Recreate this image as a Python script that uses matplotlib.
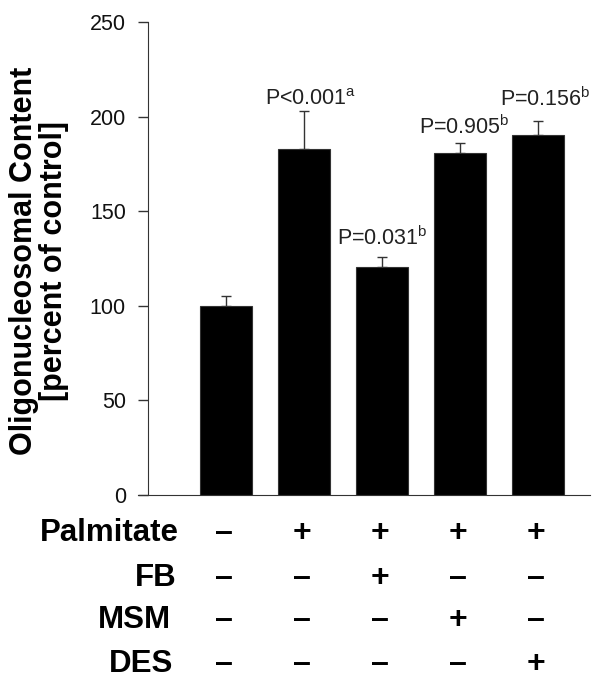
import numpy as np
import matplotlib
matplotlib.use('Agg')
import matplotlib.pyplot as plt
import matplotlib.transforms as mtransforms

plt.rcParams['font.family'] = ['Liberation Sans', 'DejaVu Sans']
plt.rcParams['mathtext.fontset'] = 'custom'
plt.rcParams['mathtext.rm'] = 'Liberation Sans'

# bar heights and upper error (percent of control)
values = [100, 183, 120.5, 180.8, 190.3]
errors = [5.3, 20, 5.3, 5.2, 7.4]
p_labels = ['', r'P<0.001$^{\rm a}$', r'P=0.031$^{\rm b}$', r'P=0.905$^{\rm b}$', r'P=0.156$^{\rm b}$']

treatments = ['Palmitate', 'FB', 'MSM', 'DES']
signs = [
    ['-', '+', '+', '+', '+'],
    ['-', '-', '+', '-', '-'],
    ['-', '-', '-', '+', '-'],
    ['-', '-', '-', '-', '+'],
]

fig = plt.figure(figsize=(5.92, 6.8), dpi=100)
ax = fig.add_axes([0.25, 0.272, 0.747, 0.6956])

x = np.arange(len(values))
ax.bar(x, values, width=0.67, color='black', edgecolor='#333333', linewidth=0.8, zorder=2)
ax.errorbar(x, values, yerr=[np.zeros(len(errors)), errors], fmt='none',
            ecolor='#333333', elinewidth=1, capsize=3.3, capthick=1, zorder=1)

# p-value labels (gap above error bar and small sideways shift)
lab_pad = [0, 6, 10, 8.5, 11.5]
lab_dx = [0, 0.08, 0.0, 0.06, 0.09]
for i in range(len(values)):
    if p_labels[i]:
        ax.text(x[i] + lab_dx[i], values[i] + errors[i] + lab_pad[i], p_labels[i],
                ha='center', va='center', fontsize=15.5, color='#222222')

ax.set_xlim(-1.0, 4.67)
ax.set_ylim(0, 250)
ax.set_yticks([0, 50, 100, 150, 200, 250])
ax.set_xticks([])
ax.tick_params(axis='y', labelsize=15.5, length=7, width=1, color='#333333', pad=9,
               labelcolor='#111111')
ax.spines['top'].set_visible(False)
ax.spines['right'].set_visible(False)
ax.spines['left'].set_color('#333333')
ax.spines['bottom'].set_color('#333333')
ax.spines['bottom'].set_bounds(-1.13, 4.67)

fig.text(39.5 / 592, 1 - 261 / 680, 'Oligonucleosomal Content\n[percent of control]',
         rotation=90, ha='center', va='center', fontsize=22, fontweight='bold',
         linespacing=1.0)

# treatment table under the axis
trans = mtransforms.blended_transform_factory(ax.transData, ax.transAxes)
row_y = [-0.08, -0.175, -0.265, -0.358]
label_x = [-0.6, -0.64, -0.7, -0.67]
for r in range(len(treatments)):
    ax.text(label_x[r], row_y[r], treatments[r], transform=trans, ha='right',
            va='center', fontsize=22.5, fontweight='bold')
    for c in range(len(values)):
        s = '+' if signs[r][c] == '+' else '\u2013'
        ax.text(x[c] - 0.03, row_y[r], s, transform=trans, ha='center', va='center',
                fontsize=23, fontweight='bold')

fig.savefig('out.png', dpi=100)
